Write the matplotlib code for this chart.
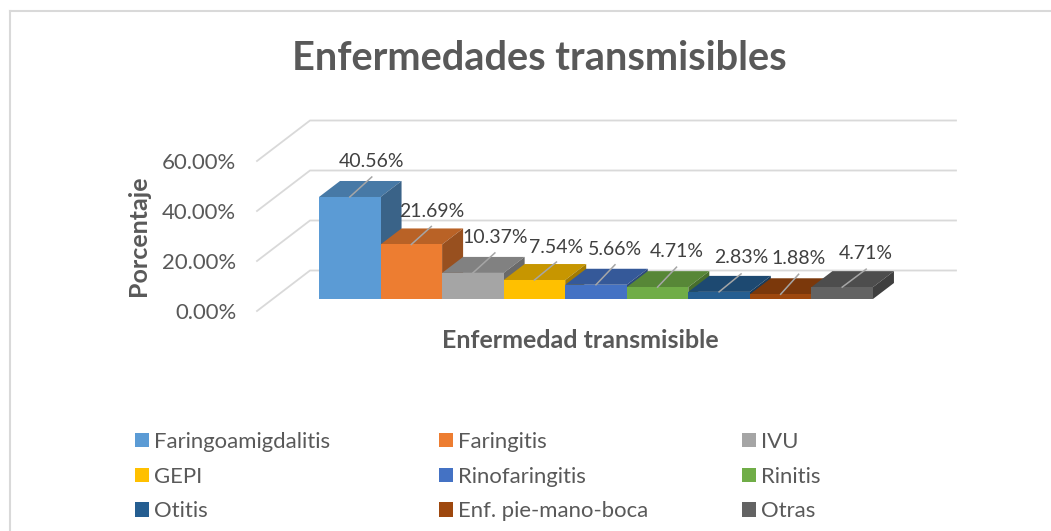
import matplotlib
matplotlib.use("Agg")
import matplotlib.pyplot as plt
from matplotlib.legend import Legend
from matplotlib.lines import Line2D
from matplotlib.patches import Polygon, Patch

# ---- data
categories = ["Faringoamigdalitis", "Faringitis", "IVU", "GEPI", "Rinofaringitis",
              "Rinitis", "Otitis", "Enf. pie-mano-boca", "Otras"]
values = [40.56, 21.69, 10.37, 7.54, 5.66, 4.71, 2.83, 1.88, 4.71]
y_ticks = [0, 20, 40, 60]
title = "Enfermedades transmisibles"
x_title = "Enfermedad transmisible"
y_title = "Porcentaje"

# ---- style
colors = ["#5B9BD5", "#ED7D31", "#A5A5A5", "#FFC000", "#4472C4",
          "#70AD47", "#255E91", "#9E480E", "#636363"]
W, H = 1051, 531
FONT = "Lato"
GRID = "#D9D9D9"
TXT = "#595959"
plt.rcParams["font.family"] = [FONT, "DejaVu Sans"]

fig = plt.figure(figsize=(W / 100, H / 100), dpi=100)
fig.patch.set_facecolor("white")

# pixel layout
BAR_L, BAR_W, BASE_Y, PX_PER_UNIT = 319.0, 61.55, 299.0, 2.515
DEPTH_X, DEPTH_Y = 21.0, 16.0
ax = fig.add_axes([0, 0, 1, 1])
ax.set_xlim((0 - (BAR_L + BAR_W / 2)) / BAR_W, (W - (BAR_L + BAR_W / 2)) / BAR_W)
ax.set_ylim(-(H - BASE_Y) / PX_PER_UNIT, BASE_Y / PX_PER_UNIT)
ax.axis("off")

def dpx(px):
    return px / BAR_W

def dpy(px):
    return px / PX_PER_UNIT

# frame of the chart area
fig.add_artist(Line2D([9.5 / W, 9.5 / W], [0, 1 - 10.5 / H], color=GRID, lw=1.5))
fig.add_artist(Line2D([9.5 / W, 1], [1 - 10.5 / H, 1 - 10.5 / H], color=GRID, lw=1.5))

# back wall and side wall gridlines
WALL_X0, WALL_X1, WALL_X2 = 257.0, 310.0, 956.0
FRONT_0, BACK_0, GRID_STEP_PX = 311.0, 270.5, 50.0
to_x = lambda px: (px - (BAR_L + BAR_W / 2)) / BAR_W
to_y = lambda px: (BASE_Y - px) / PX_PER_UNIT
for t in y_ticks:
    d = t * GRID_STEP_PX / 20
    ax.plot([to_x(WALL_X0), to_x(WALL_X1), to_x(WALL_X2)],
            [to_y(FRONT_0 - d), to_y(BACK_0 - d), to_y(BACK_0 - d)],
            color=GRID, lw=1.3, solid_joinstyle="miter", zorder=1)

def shade(c, f):
    r, g, b = matplotlib.colors.to_rgb(c)
    return (r * f, g * f, b * f)

# bars: front, top and side faces
xs = list(range(len(values)))
for x, v, c in zip(xs, values, colors):
    l, r = x - .5, x + .5
    z = 2 + x * 0.01
    ax.bar(x, v, width=1.0, color=c, linewidth=0, zorder=z + 0.002)
    ax.add_patch(Polygon([(l, v), (r, v), (r + dpx(DEPTH_X), v + dpy(DEPTH_Y)),
                          (l + dpx(DEPTH_X), v + dpy(DEPTH_Y))],
                         closed=True, fc=shade(c, .78), lw=0, zorder=z))
    ax.add_patch(Polygon([(r, 0), (r, v), (r + dpx(DEPTH_X), v + dpy(DEPTH_Y)),
                          (r + dpx(DEPTH_X), dpy(DEPTH_Y))],
                         closed=True, fc=shade(c, .64), lw=0, zorder=z))

# data labels with leader lines (pixel offsets from the top centre of each bar)
leader = [(22, 20), (20, 18), (22, 20), (22, 18), (19, 20), (19, 20), (22, 18), (18, 20), (24, 18)]
label_gap = [15, 15, 15, 15, 15, 16, 16, 16, 16]
for x, v, (dx, dy), g in zip(xs, values, leader, label_gap):
    ax.plot([x, x + dpx(dx)], [v, v + dpy(dy)], color="#A6A6A6", lw=1.1, zorder=5)
    ax.text(x + dpx(dx), v + dpy(dy + g), f"{v:.2f}%", ha="center", va="center",
            fontsize=14, color="#404040", zorder=6)

# y axis: tick labels on the front edge of the side wall
tick_ax = fig.add_axes([WALL_X0 / W, 1 - FRONT_0 / H, 1 / W, 150.0 / H])
tick_ax.set_ylim(0, 60)
tick_ax.set_yticks(y_ticks, [f"{t:.2f}%" for t in y_ticks], fontsize=15.9, color=TXT)
tick_ax.tick_params(axis="y", length=0, pad=15)
tick_ax.set_xticks([])
tick_ax.patch.set_alpha(0)
for s in tick_ax.spines.values():
    s.set_visible(False)

fig.text(539.5 / W, 1 - 59 / H, title, ha="center", va="center",
         fontsize=28.6, fontweight="bold", color=TXT)
fig.text(580 / W, 1 - 340 / H, x_title, ha="center", va="center",
         fontsize=18, fontweight="bold", color=TXT)
fig.text(138 / W, 1 - 236 / H, y_title, ha="center", va="center", rotation=90,
         fontsize=18, fontweight="bold", color=TXT)

# legend: three equally spaced columns
LEG_FS = 15.95
for col, left in enumerate([135, 439, 742]):
    idx = [col, col + 3, col + 6]
    handles = [Patch(fc=colors[i], lw=0) for i in idx]
    leg = Legend(ax, handles, [categories[i] for i in idx],
                 loc="upper left", bbox_to_anchor=(left / W, 1 - 432 / H),
                 bbox_transform=fig.transFigure, frameon=False, fontsize=LEG_FS,
                 borderpad=0, borderaxespad=0, handlelength=0.63, handleheight=0.63,
                 handletextpad=0.22, labelspacing=0.66, labelcolor=TXT)
    ax.add_artist(leg)

fig.savefig("out.png", dpi=100)
